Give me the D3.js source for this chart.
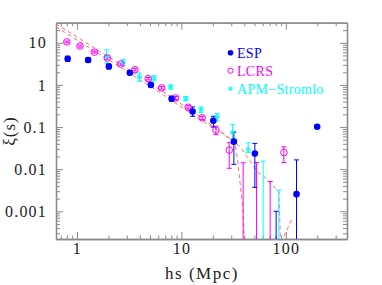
<!DOCTYPE html>
<html>
<head>
<meta charset="utf-8">
<script src="https://cdn.jsdelivr.net/npm/d3@7"></script>
<style>
  body { margin: 0; background: #fff; }
  svg { display: block; }
  text { font-family: "Liberation Serif", "Times New Roman", serif; }
</style>
</head>
<body>
<div id="chart"></div>
<script>
// ESP
var espS   = [0.815, 1.28, 2.02, 3.21, 5.1, 8.06, 12.8, 20.2, 31.8, 50.5, 80.7, 126.5, 199.5];
var espXi  = [4.19, 3.9, 2.75, 1.95, 1.0, 0.47, 0.234, 0.141, 0.045, 0.0234, -0.003, 0.00255, 0.1016];
var espLo  = [3.6, 3.4, 2.4, 1.75, 0.9, 0.41, 0.18, 0.10, 0.013, 0.0037, -0.007, -0.01, 0.1016];
var espHi  = [4.8, 4.4, 3.1, 2.2, 1.1, 0.54, 0.30, 0.18, 0.076, 0.041, 0.001, 0.0166, 0.1016];

// LCRS
var lcrsS  = [0.8, 1.07, 1.47, 1.95, 2.62, 3.59, 4.81, 6.46, 8.8, 11.6, 15.8, 21.4, 28.7, 39, 52.4, 70.8, 95.7];
var lcrsXi = [10.5, 8.36, 6.0, 4.35, 3.13, 2.3, 1.41, 0.85, 0.49, 0.295, 0.166, 0.0845, 0.0284, -0.004, -0.004, -0.004, 0.0247];
var lcrsLo = [10.0, 7.9, 5.7, 4.1, 2.95, 2.15, 1.32, 0.79, 0.45, 0.27, 0.15, 0.066, 0.0105, -0.02, -0.02, -0.02, 0.0144];
var lcrsHi = [11.0, 8.8, 6.3, 4.6, 3.3, 2.45, 1.5, 0.91, 0.53, 0.32, 0.18, 0.105, 0.0426, 0.0142, 0.0144, 0.0051, 0.034];

// APM-Stromlo
var apmS   = [1.92, 2.77, 3.95, 5.45, 7.88, 11.0, 15.4, 22, 30.9, 43.6, 60.6, 85.7];
var apmXi  = [4.74, 3.5, 1.55, 1.45, 0.9, 0.467, 0.26, 0.175, 0.0745, 0.0296, -0.004, -0.004];
var apmLo  = [3.3, 2.9, 1.22, 1.25, 0.8, 0.42, 0.22, 0.14, 0.052, 0.025, -0.02, -0.02];
var apmHi  = [6.8, 3.97, 1.92, 1.65, 1.0, 0.53, 0.3, 0.21, 0.116, 0.042, 0.0155, 0.0032];

// model curves (dashed)
var modelAS  = [0.63, 1.94, 6.23, 15.0, 36.3, 54, 63, 85.8, 89.6];
var modelAXi = [28.1, 4.93, 0.774, 0.178, 0.0348, 0.00845, 0.00645, 0.00284, 0.0001];
var modelBS  = [0.63, 1.94, 6.23, 15.0, 26.1, 32.5, 34.7, 38.8, 40.5, 60, 90, 116.7];
var modelBXi = [23.9, 4.19, 0.658, 0.151, 0.0668, 0.0432, 0.0146, 0.00113, 0.0001, -1, 0.00018, 0.00073];

var xMajor = [1, 10, 100];
var xMinor = [0.7, 0.8, 0.9, 2, 3, 4, 5, 6, 7, 8, 9, 20, 30, 40, 50, 60, 70, 80, 90, 200, 300];
var yMajor = [0.001, 0.01, 0.1, 1, 10];
var yLabels = ['0.001', '0.01', '0.1', '1', '10'];
var yMinor = [];
[0.0001, 0.001, 0.01, 0.1, 1, 10].forEach(function(d) {
  for (var k = 2; k <= 9; k++) {
    var v = +(d * k).toPrecision(3);
    if (v > 0.00022 && v < 30) yMinor.push(v);
  }
});

var width = 382, height = 285;
var plotLeft = 56, plotRight = 347, plotTop = 22.7, plotBottom = 239;

var x = d3.scaleLog().domain([0.63, 385]).range([plotLeft, plotRight]);
var y = d3.scaleLog().domain([0.00022, 30]).range([plotBottom, plotTop]);

var svg = d3.select('#chart').append('svg')
  .attr('width', width)
  .attr('height', height);

svg.append('clipPath').attr('id', 'plot-clip')
  .append('rect')
  .attr('x', plotLeft).attr('y', plotTop)
  .attr('width', plotRight - plotLeft).attr('height', plotBottom - plotTop);

var axisColor = '#8a8a8a';

function styleAxis(g) {
  g.selectAll('.domain').attr('stroke', axisColor).attr('stroke-width', 1.3);
  g.selectAll('.tick line').attr('stroke', axisColor).attr('stroke-width', 1);
  g.selectAll('.tick text')
    .attr('fill', '#222')
    .style('font-size', '16px')
    .style('letter-spacing', '1.2px');
}

// bottom
svg.append('g').attr('transform', 'translate(0,' + plotBottom + ')')
  .call(d3.axisBottom(x).tickValues(xMinor).tickSize(-3.5).tickSizeOuter(0).tickFormat(''))
  .call(styleAxis);
svg.append('g').attr('transform', 'translate(0,' + plotBottom + ')')
  .call(d3.axisBottom(x).tickValues(xMajor).tickSize(-7).tickSizeOuter(0).tickPadding(4)
    .tickFormat(d3.format('~g')))
  .call(styleAxis);
// top
svg.append('g').attr('transform', 'translate(0,' + plotTop + ')')
  .call(d3.axisTop(x).tickValues(xMinor).tickSize(-3.5).tickSizeOuter(0).tickFormat(''))
  .call(styleAxis);
svg.append('g').attr('transform', 'translate(0,' + plotTop + ')')
  .call(d3.axisTop(x).tickValues(xMajor).tickSize(-7).tickSizeOuter(0).tickFormat(''))
  .call(styleAxis);
// left
svg.append('g').attr('transform', 'translate(' + plotLeft + ',0)')
  .call(d3.axisLeft(y).tickValues(yMinor).tickSize(-4).tickSizeOuter(0).tickFormat(''))
  .call(styleAxis);
svg.append('g').attr('transform', 'translate(' + plotLeft + ',0)')
  .call(d3.axisLeft(y).tickValues(yMajor).tickSize(-7).tickSizeOuter(0).tickPadding(9)
    .tickFormat(function(d, i) { return yLabels[i]; }))
  .call(styleAxis);
// right
svg.append('g').attr('transform', 'translate(' + plotRight + ',0)')
  .call(d3.axisRight(y).tickValues(yMinor).tickSize(-4).tickSizeOuter(0).tickFormat(''))
  .call(styleAxis);
svg.append('g').attr('transform', 'translate(' + plotRight + ',0)')
  .call(d3.axisRight(y).tickValues(yMajor).tickSize(-7).tickSizeOuter(0).tickFormat(''))
  .call(styleAxis);

// axis titles
svg.append('text')
  .attr('x', 202).attr('y', 279)
  .attr('text-anchor', 'middle')
  .style('font-size', '17px')
  .style('letter-spacing', '1.5px')
  .attr('fill', '#222')
  .text('hs (Mpc)');

svg.append('text')
  .attr('transform', 'translate(15,131) rotate(-90)')
  .attr('text-anchor', 'middle')
  .style('font-size', '17px')
  .style('letter-spacing', '1px')
  .attr('fill', '#222')
  .text('ξ(s)');

var plot = svg.append('g').attr('clip-path', 'url(#plot-clip)');

// model curves
var line = d3.line()
  .defined(function(d) { return d[1] > 0; })
  .x(function(d) { return x(d[0]); })
  .y(function(d) { return y(d[1]); });

[[modelAS, modelAXi], [modelBS, modelBXi]].forEach(function(m) {
  plot.append('path')
    .datum(d3.zip(m[0], m[1]))
    .attr('d', line)
    .attr('fill', 'none')
    .attr('stroke', '#ff6f6f')
    .attr('stroke-width', 1)
    .attr('stroke-dasharray', '4,3');
});

// error bars
function errorBars(S, Lo, Hi, color) {
  var rows = S.map(function(s, i) { return {s: s, lo: Lo[i], hi: Hi[i]}; })
    .filter(function(d) { return d.hi > d.lo; });
  var yc = function(v) { return v > 0 ? y(v) : plotBottom + 5; };
  var g = plot.append('g').attr('stroke', color).attr('stroke-width', 1);
  g.selectAll('.bar').data(rows).enter().append('line')
    .attr('x1', function(d) { return x(d.s); })
    .attr('x2', function(d) { return x(d.s); })
    .attr('y1', function(d) { return yc(d.lo); })
    .attr('y2', function(d) { return yc(d.hi); });
  g.selectAll('.cap-hi').data(rows).enter().append('line')
    .attr('x1', function(d) { return x(d.s) - 2.5; })
    .attr('x2', function(d) { return x(d.s) + 2.5; })
    .attr('y1', function(d) { return yc(d.hi); })
    .attr('y2', function(d) { return yc(d.hi); });
  g.selectAll('.cap-lo').data(rows.filter(function(d) { return d.lo > 0; })).enter().append('line')
    .attr('x1', function(d) { return x(d.s) - 2.5; })
    .attr('x2', function(d) { return x(d.s) + 2.5; })
    .attr('y1', function(d) { return yc(d.lo); })
    .attr('y2', function(d) { return yc(d.lo); });
}

errorBars(apmS, apmLo, apmHi, '#00ffff');
errorBars(lcrsS, lcrsLo, lcrsHi, '#ff00ff');
errorBars(espS, espLo, espHi, '#0000ff');

function pts(S, Xi) {
  return S.map(function(s, i) { return [s, Xi[i]]; }).filter(function(d) { return d[1] > 0; });
}

var asterisk = d3.symbol().type(d3.symbolAsterisk || d3.symbolCross).size(22);

plot.selectAll('.apm').data(pts(apmS, apmXi)).enter().append('path')
  .attr('transform', function(d) { return 'translate(' + x(d[0]) + ',' + y(d[1]) + ')'; })
  .attr('d', asterisk)
  .attr('fill', 'none')
  .attr('stroke', '#00ffff')
  .attr('stroke-width', 1.2);

plot.selectAll('.lcrs').data(pts(lcrsS, lcrsXi)).enter().append('circle')
  .attr('cx', function(d) { return x(d[0]); })
  .attr('cy', function(d) { return y(d[1]); })
  .attr('r', 3.3)
  .attr('fill', 'none')
  .attr('stroke', '#ff00ff')
  .attr('stroke-width', 1);

plot.selectAll('.esp').data(pts(espS, espXi)).enter().append('circle')
  .attr('cx', function(d) { return x(d[0]); })
  .attr('cy', function(d) { return y(d[1]); })
  .attr('r', 3.3)
  .attr('fill', '#0000ff');

// legend
var legendNames = ['ESP', 'LCRS', 'APM\u2212Stromlo'];
var legendColors = ['#0000ff', '#ff00ff', '#00ffff'];
var legend = svg.append('g').attr('transform', 'translate(230.5,52.7)');
legendNames.forEach(function(name, i) {
  var row = legend.append('g').attr('transform', 'translate(0,' + (i * 18) + ')');
  if (i === 0) {
    row.append('circle').attr('r', 2.8).attr('fill', legendColors[i]);
  } else if (i === 1) {
    row.append('circle').attr('r', 2.6).attr('fill', 'none')
      .attr('stroke', legendColors[i]).attr('stroke-width', 1);
  } else {
    row.append('path').attr('d', d3.symbol().type(d3.symbolAsterisk || d3.symbolCross).size(14))
      .attr('fill', 'none').attr('stroke', legendColors[i]).attr('stroke-width', 1.2);
  }
  row.append('text')
    .attr('x', 6.5).attr('y', 5)
    .style('font-size', '14px')
    .style('letter-spacing', '0.3px')
    .attr('fill', legendColors[i])
    .text(name);
});
</script>
</body>
</html>
